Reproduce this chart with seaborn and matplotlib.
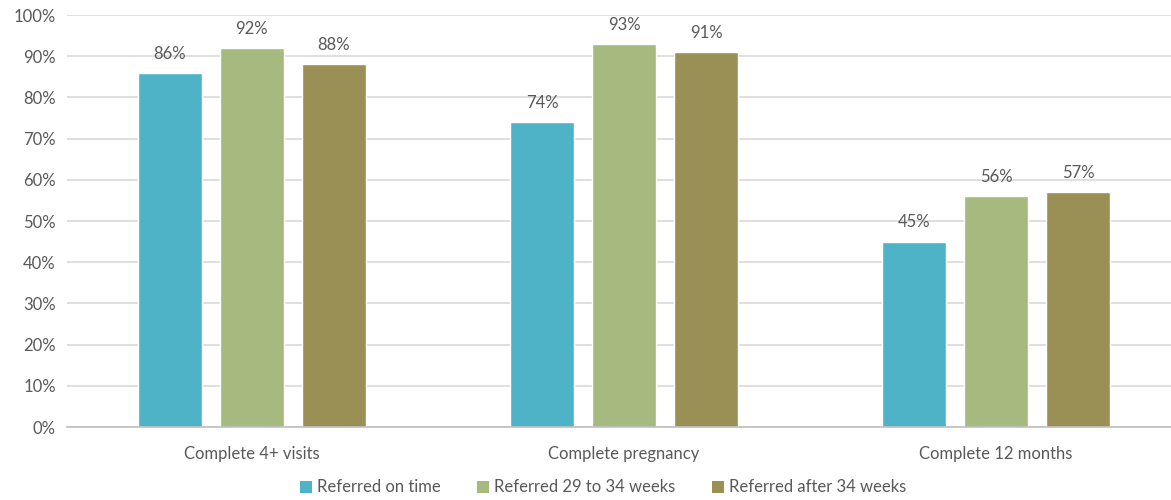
import matplotlib
matplotlib.use("Agg")
import matplotlib.pyplot as plt
import seaborn as sns
import pandas as pd
from matplotlib.patches import Patch

categories = ["Complete 4+ visits", "Complete pregnancy", "Complete 12 months"]
series = ["Referred on time", "Referred 29 to 34 weeks", "Referred after 34 weeks"]
on_time = [86, 74, 45]
weeks_29_34 = [92, 93, 56]
after_34 = [88, 91, 57]
colors = ["#4FB3C8", "#A6B97E", "#9A9055"]

rows = []
for name, vals in zip(series, [on_time, weeks_29_34, after_34]):
    for cat, v in zip(categories, vals):
        rows.append({"category": cat, "series": name, "value": v})
df = pd.DataFrame(rows)

sns.set_theme(style="white")
plt.rcParams["font.family"] = ["Lato", "DejaVu Sans"]
text_color = "#595959"
fs = 12

fig = plt.figure(figsize=(11.71, 5.0), dpi=100)
ax = fig.add_axes([67 / 1171, 73 / 500, 1 - 67 / 1171, 412 / 500])

sns.barplot(data=df, x="category", y="value", hue="series", order=categories,
            hue_order=series, palette=colors, width=0.661, gap=0.22,
            saturation=1, ax=ax, legend=False, errorbar=None)

ax.set_ylim(0, 100)
ax.set_xlim(-0.497, 2.47)
ax.set_yticks(range(0, 101, 10))
ax.set_yticklabels([f"{t}%" for t in range(0, 101, 10)])
ax.yaxis.grid(True, color="#D9D9D9", linewidth=1.2)
ax.set_axisbelow(True)
for s in ["top", "right", "left"]:
    ax.spines[s].set_visible(False)
ax.spines["bottom"].set_color("#BFBFBF")
ax.spines["bottom"].set_linewidth(1.2)
ax.tick_params(axis="both", length=0, labelsize=fs, colors=text_color, pad=8)
ax.tick_params(axis="x", pad=14)
ax.set_xlabel("")
ax.set_ylabel("")

for container in ax.containers:
    ax.bar_label(container, labels=[f"{v:.0f}%" for v in container.datavalues],
                 padding=8, fontsize=fs, color=text_color)

handles = [Patch(facecolor=c, edgecolor="none") for c in colors]
fig.legend(handles, series, loc="center", bbox_to_anchor=(0.515, 0.025), ncol=3,
           frameon=False, fontsize=fs, labelcolor=text_color,
           handlelength=0.7, handleheight=0.7, handletextpad=0.3, columnspacing=2.2)

fig.savefig("out.png", dpi=100)
